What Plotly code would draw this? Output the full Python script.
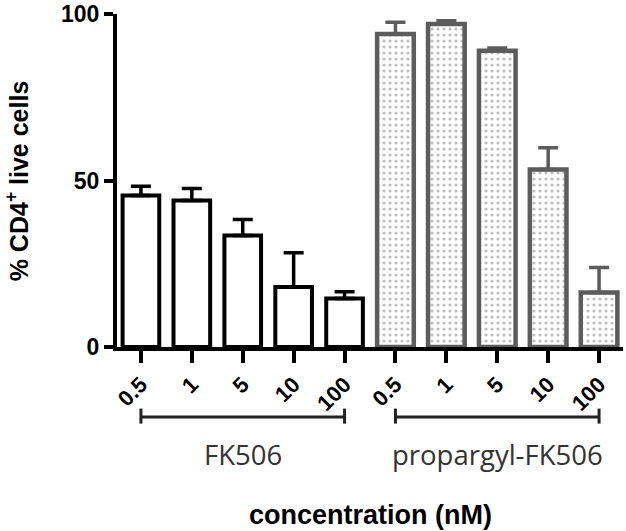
import plotly.graph_objects as go

concentrations = ["0.5", "1", "5", "10", "100"]
groups = ["FK506", "propargyl-FK506"]
fk506_mean = [45.5, 44.0, 33.5, 18.0, 14.6]
fk506_err = [2.8, 3.6, 4.8, 10.3, 2.0]
prop_mean = [94.0, 97.0, 89.0, 53.3, 16.4]
prop_err = [3.5, 1.0, 0.8, 6.5, 7.5]
y_ticks = [0, 50, 100]

n = len(concentrations)
x_fk = list(range(n))
x_pr = list(range(n, 2 * n))

fig = go.Figure()
fig.add_trace(go.Bar(
    x=x_fk, y=fk506_mean, width=0.72,
    marker=dict(color="white", line=dict(color="black", width=4)),
    error_y=dict(type="data", symmetric=False, array=fk506_err,
                 arrayminus=[0] * n, color="black", thickness=3.5, width=10),
    showlegend=False,
))
fig.add_trace(go.Bar(
    x=x_pr, y=prop_mean, width=0.72,
    marker=dict(color="white", line=dict(color="#5c5c5c", width=4.5),
                pattern=dict(shape=".", fgcolor="#7a7a7a", bgcolor="white",
                             size=6, solidity=0.22)),
    error_y=dict(type="data", symmetric=False, array=prop_err,
                 arrayminus=[0] * n, color="#5c5c5c", thickness=3.5, width=10),
    showlegend=False,
))

bold = dict(family="Liberation Sans, Arial", color="black", weight="bold")

fig.update_layout(
    width=626, height=531,
    margin=dict(l=117, r=3, t=14, b=184),
    paper_bgcolor="white", plot_bgcolor="white",
    xaxis=dict(
        range=[-0.47, 2 * n - 0.53],
        tickvals=x_fk + x_pr, ticktext=concentrations + concentrations,
        tickangle=-45, ticks="outside", ticklen=12, tickwidth=3.5, tickcolor="black",
        tickfont=dict(size=22, **bold), ticklabeloverflow="allow",
        showline=True, linecolor="black", linewidth=4,
        showgrid=False, zeroline=False, automargin=False,
    ),
    yaxis=dict(
        range=[0, 100], tickvals=y_ticks,
        ticks="outside", ticklen=9, tickwidth=3.5, tickcolor="black",
        tickfont=dict(size=23, **bold), ticklabeloverflow="allow",
        showline=True, linecolor="black", linewidth=4,
        showgrid=False, zeroline=False, automargin=False,
    ),
)

# y axis title
fig.add_annotation(x=-0.198, y=0.5, xref="paper", yref="paper",
                   text="% CD4<sup>+</sup> live cells", showarrow=False,
                   textangle=-90, xanchor="center", yanchor="middle",
                   font=dict(size=25, **bold))

# group brackets and labels
bracket_y = -0.21
for gi, g in enumerate(groups):
    x0 = gi * n
    x1 = gi * n + n - 1
    fig.add_shape(type="line", xref="x", yref="paper", x0=x0, x1=x1,
                  y0=bracket_y, y1=bracket_y, line=dict(color="#222", width=3))
    for xe in (x0, x1):
        fig.add_shape(type="line", xref="x", yref="paper", x0=xe, x1=xe,
                      y0=bracket_y + 0.025, y1=bracket_y - 0.02,
                      line=dict(color="#222", width=3))
    fig.add_annotation(x=(x0 + x1) / 2, y=-0.324, xref="x", yref="paper",
                       text=g, showarrow=False, xanchor="center", yanchor="middle",
                       font=dict(family="Open Sans", size=27.5, color="#333"))

fig.add_annotation(x=(2 * n - 1) / 2, y=-0.505, xref="x", yref="paper",
                   text="concentration (nM)", showarrow=False,
                   xanchor="center", yanchor="middle",
                   font=dict(size=27, **bold))

fig.write_html("out.html")
